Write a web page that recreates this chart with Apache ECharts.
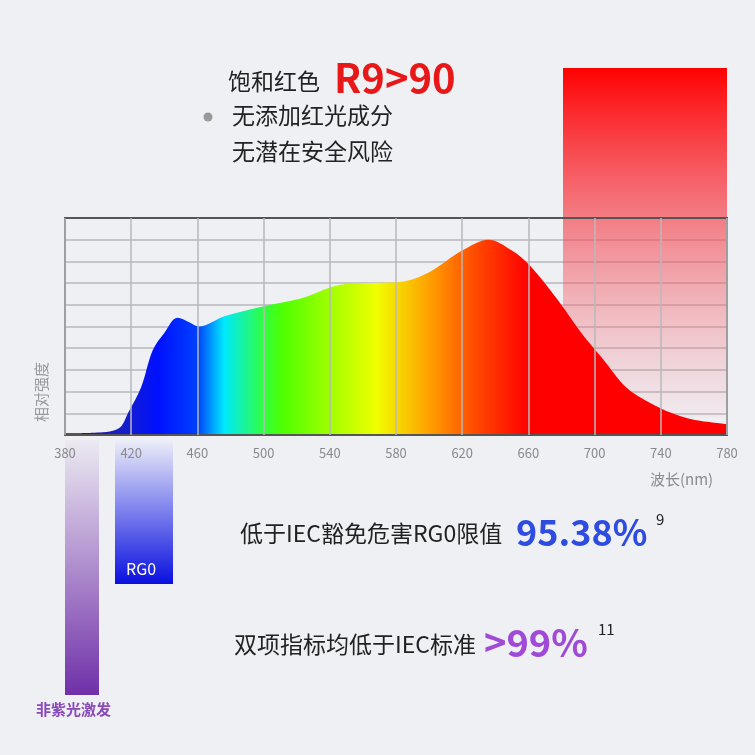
<!DOCTYPE html>
<html><head><meta charset="utf-8">
<script src="https://cdn.jsdelivr.net/npm/echarts@6/dist/echarts.min.js"></script>
<style>html,body{margin:0;padding:0;background:#eff0f4}#c{width:755px;height:755px}</style>
</head><body><div id="c"></div>
<script>
const wavelengths = [380,401,409,414,418,426,433,440,448,455,461,476,498,523,545,564,586,600,620,636,650,661,678,692,705,719,733,747,760,780];
const intensity   = [0.8,1.2,2,4,10,22,39,47,54,52,50,54.6,59,63,69,70,71,75,85,90,85,78,62,47,35,22,15,10,7,5];
const xTicks = [380,420,460,500,540,580,620,660,700,740,780];
const FONT = '"Noto Sans CJK SC","Noto Sans",sans-serif';
const chart = echarts.init(document.getElementById('c'));
const G = echarts.graphic;
chart.setOption({
  backgroundColor:'#eff0f4',
  grid:{left:65,right:28,top:218,bottom:320,show:true,borderColor:'#555',borderWidth:2,z:3},
  xAxis:{type:'value',min:380,max:780,interval:40,z:10,
    axisLine:{show:false},axisTick:{show:false},
    splitLine:{show:true,lineStyle:{color:'#b8b8bc',width:1.5}},
    axisLabel:{color:'#8a8a8e',fontSize:13,margin:12,fontFamily:FONT,
      formatter:v=>xTicks.includes(v)?String(v):''}},
  yAxis:{type:'value',min:0,max:100,interval:10,axisLabel:{show:false},axisLine:{show:false},axisTick:{show:false},
    splitLine:{show:true,lineStyle:{color:'#b8b8bc',width:1.5}}},
  series:[{type:'line',smooth:0.35,symbol:'none',z:2,
    data:wavelengths.map((w,i)=>[w,intensity[i]]),
    lineStyle:{width:0},
    areaStyle:{opacity:1,color:new G.LinearGradient(0,0,1,0,[
      {offset:0,color:'#2a0a80'},{offset:0.08,color:'#1a20c0'},{offset:0.14,color:'#0010ff'},
      {offset:0.2,color:'#0040ff'},{offset:0.24,color:'#00e8ff'},{offset:0.3,color:'#30ff40'},
      {offset:0.33,color:'#50ff00'},{offset:0.47,color:'#f0ff00'},{offset:0.55,color:'#ffa000'},
      {offset:0.62,color:'#ff4a00'},{offset:0.7,color:'#ff0000'},{offset:1,color:'#ff0000'}])}
  }],
  graphic:[
    {type:'rect',z:1,shape:{x:563,y:68,width:164,height:350},style:{fill:new G.LinearGradient(0,0,0,1,[
      {offset:0,color:'rgba(255,0,0,1)'},{offset:0.45,color:'rgba(245,70,80,0.65)'},{offset:1,color:'rgba(240,130,140,0.05)'}])}},
    {type:'rect',z:1,shape:{x:65,y:440,width:34,height:255},style:{fill:new G.LinearGradient(0,0,0,1,[
      {offset:0,color:'#eceaf2'},{offset:1,color:'#7030a8'}])}},
    {type:'rect',z:1,shape:{x:115,y:440,width:58,height:144},style:{fill:new G.LinearGradient(0,0,0,1,[
      {offset:0,color:'#eceef8'},{offset:1,color:'#0a10e0'}])}},
    {type:'text',z:5,left:126,top:561,style:{text:'RG0',fill:'#fff',font:'16px '+FONT}},
    {type:'text',z:5,left:36,top:702,style:{text:'非紫光激发',fill:'#8a4ab8',font:'bold 15px '+FONT}},
    {type:'text',z:5,left:228,top:70,style:{text:'饱和红色',fill:'#222',font:'23px '+FONT}},
    {type:'text',z:5,left:334,top:58,style:{text:'R9>90',fill:'#e81818',font:'bold 40px '+FONT}},
    {type:'circle',z:5,shape:{cx:208,cy:117,r:4.5},style:{fill:'#999'}},
    {type:'text',z:5,left:232,top:104,style:{text:'无添加红光成分',fill:'#222',font:'23px '+FONT}},
    {type:'text',z:5,left:232,top:140,style:{text:'无潜在安全风险',fill:'#222',font:'23px '+FONT}},
    {type:'text',z:5,left:34,top:362,rotation:Math.PI/2,style:{text:'相对强度',fill:'#9a9a9e',font:'15px '+FONT}},
    {type:'text',z:5,left:650,top:472,style:{text:'波长(nm)',fill:'#8a8a8e',font:'15px '+FONT}},
    {type:'text',z:5,left:240,top:522,style:{text:'低于IEC豁免危害RG0限值',fill:'#222',font:'23px '+FONT}},
    {type:'text',z:5,left:516,top:514,style:{text:'95.38%',fill:'#2e4ce0',font:'bold 36px '+FONT}},
    {type:'text',z:5,left:656,top:512,style:{text:'9',fill:'#222',font:'15px '+FONT}},
    {type:'text',z:5,left:234,top:633,style:{text:'双项指标均低于IEC标准',fill:'#222',font:'23px '+FONT}},
    {type:'text',z:5,left:484,top:624,style:{text:'>99%',fill:'#a04ad8',font:'bold 38px '+FONT}},
    {type:'text',z:5,left:598,top:622,style:{text:'11',fill:'#222',font:'15px '+FONT}}
  ]
});
</script></body></html>
